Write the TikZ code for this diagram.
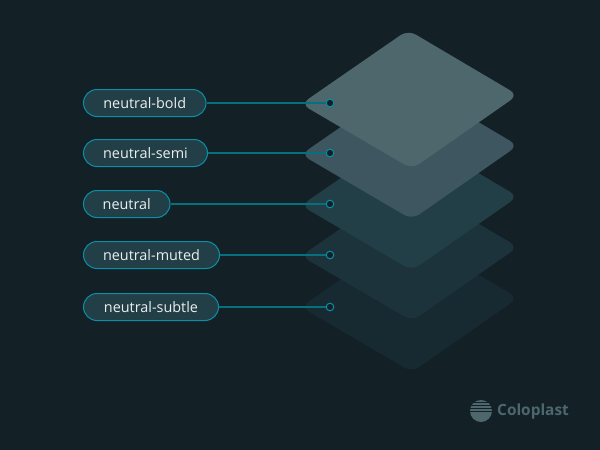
\documentclass[tikz,border=0pt]{standalone}
\usepackage{fontspec}
\setmainfont{Open Sans}
\usepackage{xcolor}
\usetikzlibrary{positioning}

\definecolor{ground}{HTML}{132127}
\definecolor{layerbold}{HTML}{4D676D}
\definecolor{layersemi}{HTML}{3E565F}
\definecolor{layerbase}{HTML}{223F48}
\definecolor{layermuted}{HTML}{1C333B}
\definecolor{layersubtle}{HTML}{182A31}
\definecolor{pillfill}{HTML}{223F48}
\definecolor{pillline}{HTML}{0A8FA6}
\definecolor{wireline}{HTML}{07707F}
\definecolor{logotone}{HTML}{4D676D}

\tikzset{
  pill/.style={draw=pillline,fill=pillfill,line width=1pt,rounded corners=13.5pt,
    minimum height=27pt,inner sep=0pt,anchor=west,align=center,
    text=white!92!ground,font=\fontsize{14.4pt}{17pt}\selectfont},
  dot/.style={circle,draw=pillline,fill=ground,line width=1pt,
    minimum size=7.6pt,inner sep=0pt},
  wire/.style={draw=wireline,line width=1.4pt},
  layer/.style={rounded corners=9pt}
}
\newcommand{\layerat}[2]{%
  \fill[layer,#1] (301,104+#2) -- (408,30+#2) -- (518,95+#2) -- (412,169+#2) -- cycle;}

\begin{document}
\begin{tikzpicture}[x=1pt,y=-1pt,on grid]
    \fill[ground] (0,0) rectangle (600,450);
    \useasboundingbox (0,0) rectangle (600,450);
    % layers, from the bottom up
    \layerat{layersubtle}{203}
    \layerat{layermuted}{152}
    \layerat{layerbase}{101.5}
    \layerat{layersemi}{50.5}
    \layerat{layerbold}{0}
    % labels
    \node[pill,minimum width=122.5pt] (p_bold) at (83,103) {neutral-bold};
    \node[pill,minimum width=124pt] (p_semi) [below=50pt of p_bold.west,anchor=west] {neutral-semi};
    \node[pill,minimum width=86.5pt] (p_base) [below=51pt of p_semi.west,anchor=west] {neutral};
    \node[pill,minimum width=136pt] (p_muted) [below=51pt of p_base.west,anchor=west] {neutral-muted};
    \node[pill,minimum width=135pt] (p_subtle) [below=52pt of p_muted.west,anchor=west] {neutral-subtle};
    % end points
    \node[dot] (d_bold) at (330,103) {};
    \node[dot] (d_semi) [below=50pt of d_bold] {};
    \node[dot] (d_base) [below=51pt of d_semi] {};
    \node[dot] (d_muted) [below=51pt of d_base] {};
    \node[dot] (d_subtle) [below=52pt of d_muted] {};
    \path[wire]
    (p_bold) -- (d_bold)
    (p_semi) -- (d_semi)
    (p_base) -- (d_base)
    (p_muted) -- (d_muted)
    (p_subtle) -- (d_subtle);
    % logo
    \fill[logotone] (481,411) circle (11);
    \draw[ground,line width=0.9pt] (468,402.5) -- (494,402.5);
    \draw[ground,line width=0.9pt] (468,405.5) -- (494,405.5);
    \draw[ground,line width=1pt] (468,408.5) -- (494,408.5);
    \draw[ground,line width=0.7pt] (468,411.5) -- (494,411.5);
    \node[text=logotone,inner sep=0pt,anchor=west,font=\fontsize{15.4pt}{18pt}\selectfont\bfseries] (logo) at (497,411) {Coloplast};
  \end{tikzpicture}
\end{document}
